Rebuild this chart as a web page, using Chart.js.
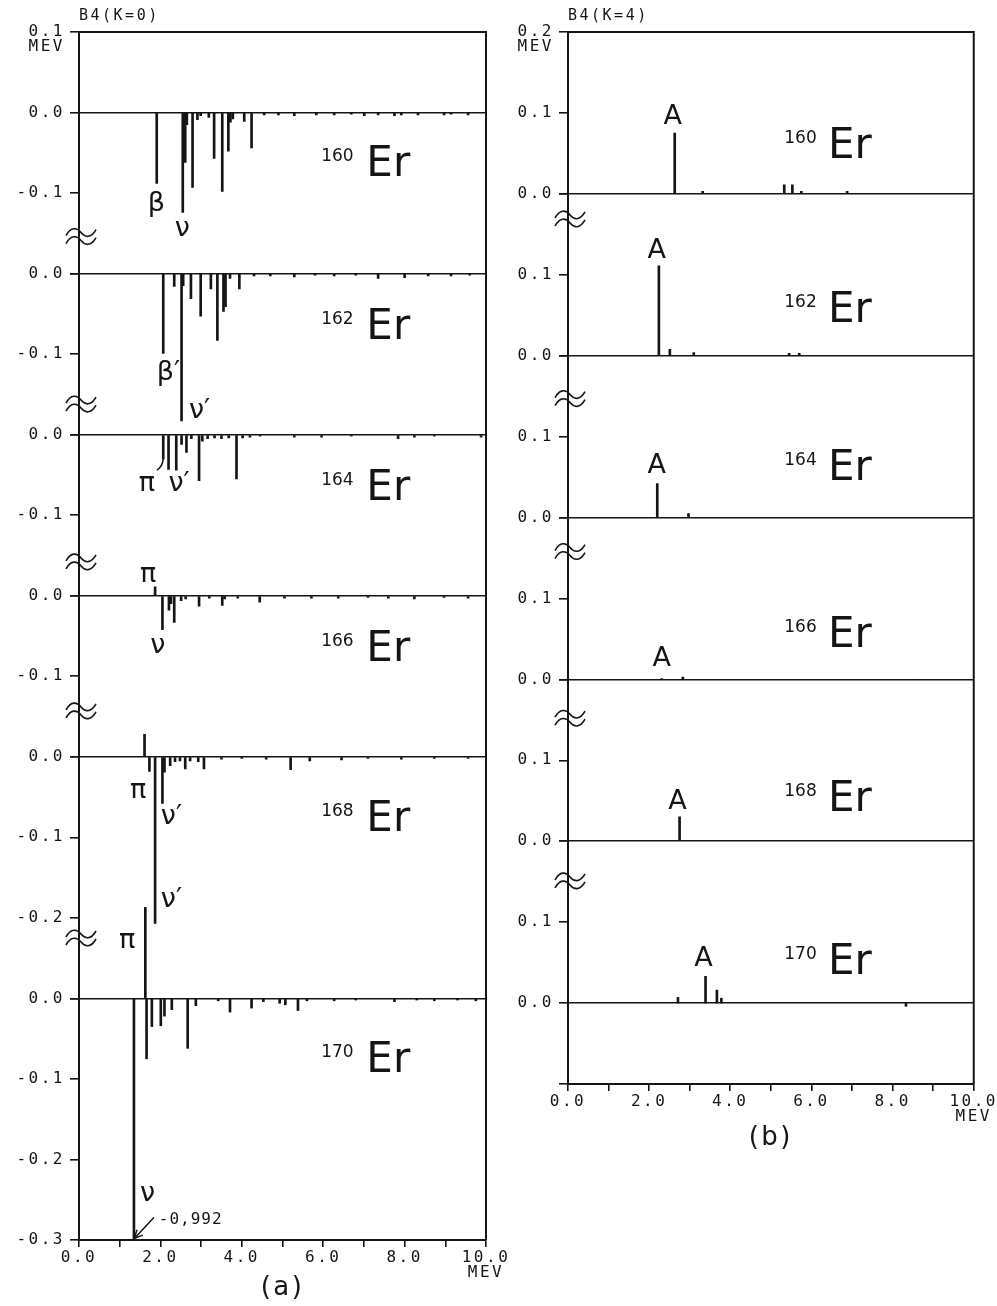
<!DOCTYPE html>
<html>
<head>
<meta charset="utf-8">
<script src="https://cdn.jsdelivr.net/npm/chart.js@4.4.1/dist/chart.umd.min.js"></script>
<style>
  html, body { margin: 0; padding: 0; background: #fff; }
  #wrap { position: relative; width: 997px; height: 1306px; overflow: hidden; }
  #chartA { position: absolute; left: 0; top: 0; }
  #chartB { position: absolute; left: 512px; top: 0; }
</style>
</head>
<body>
<div id="wrap">
  <canvas id="chartA" width="512" height="1306"></canvas>
  <canvas id="chartB" width="485" height="1306"></canvas>
</div>
<script>
const INK = '#151515';
const MONO = "'DejaVu Sans Mono', monospace";
const SANS = "'DejaVu Sans', sans-serif";

const isotopes = ['160', '162', '164', '166', '168', '170'];

// B4 strength for K=0 states: [excitation energy (MeV), B4 (MeV)]
const er160K0 = [[1.91, -0.088], [2.55, -0.124], [2.61, -0.062], [2.65, -0.015], [2.79, -0.093],
  [2.91, -0.009], [2.99, -0.004], [3.19, -0.006], [3.32, -0.057], [3.52, -0.098], [3.67, -0.048],
  [3.72, -0.012], [3.78, -0.008], [4.06, -0.011], [4.24, -0.044], [4.55, -0.003], [4.90, -0.003],
  [5.29, -0.004], [5.83, -0.003], [6.27, -0.003], [6.69, -0.002], [7.01, -0.004], [7.35, -0.003],
  [7.75, -0.004], [7.92, -0.003], [8.33, -0.003], [8.97, -0.003], [9.14, -0.002], [9.56, -0.003]];
const er162K0 = [[2.07, -0.099], [2.34, -0.016], [2.52, -0.183], [2.56, -0.015], [2.75, -0.031],
  [2.99, -0.053], [3.24, -0.019], [3.40, -0.083], [3.55, -0.047], [3.60, -0.041], [3.71, -0.006],
  [3.94, -0.019], [4.30, -0.003], [4.70, -0.003], [5.29, -0.004], [5.80, -0.002], [6.27, -0.003],
  [6.80, -0.002], [7.35, -0.006], [8.00, -0.005], [8.58, -0.003], [9.14, -0.003], [9.60, -0.002]];
const er164K0 = [[2.07, -0.030], [2.20, -0.043], [2.39, -0.044], [2.52, -0.012], [2.64, -0.022],
  [2.76, -0.005], [2.95, -0.057], [3.03, -0.008], [3.16, -0.005], [3.33, -0.004], [3.50, -0.005],
  [3.68, -0.004], [3.87, -0.055], [4.02, -0.004], [4.20, -0.003], [4.45, -0.002], [5.29, -0.003],
  [5.96, -0.003], [6.69, -0.002], [7.84, -0.005], [8.24, -0.003], [8.73, -0.002], [9.88, -0.003]];
const er166K0 = [[1.87, 0.011], [2.05, -0.042], [2.21, -0.018], [2.26, -0.010], [2.34, -0.033],
  [2.51, -0.006], [2.62, -0.004], [2.95, -0.013], [3.20, -0.003], [3.52, -0.012], [3.58, -0.004],
  [3.90, -0.003], [4.44, -0.008], [5.05, -0.003], [5.71, -0.003], [6.37, -0.003], [7.10, -0.002],
  [7.60, -0.003], [8.24, -0.004], [8.97, -0.002], [9.56, -0.003]];
const er168K0 = [[1.61, 0.028], [1.73, -0.018], [1.87, -0.207], [2.05, -0.058], [2.10, -0.019],
  [2.24, -0.011], [2.36, -0.006], [2.48, -0.005], [2.61, -0.015], [2.73, -0.005], [2.93, -0.006],
  [3.07, -0.015], [3.50, -0.003], [4.00, -0.002], [4.60, -0.003], [5.20, -0.016], [5.67, -0.005],
  [6.45, -0.004], [7.10, -0.002], [7.92, -0.003], [8.73, -0.002], [9.56, -0.002]];
const er170K0 = [[1.35, -0.992], [1.63, 0.113], [1.66, -0.075], [1.79, -0.035], [2.01, -0.034],
  [2.10, -0.022], [2.28, -0.014], [2.67, -0.062], [2.87, -0.009], [3.42, -0.003], [3.71, -0.017],
  [4.24, -0.012], [4.53, -0.004], [4.93, -0.006], [5.07, -0.008], [5.38, -0.015], [5.60, -0.003],
  [6.27, -0.003], [6.80, -0.002], [7.75, -0.004], [8.30, -0.002], [8.73, -0.003], [9.30, -0.002],
  [9.75, -0.003]];

// B4 strength for K=4 states
const er160K4 = [[2.63, 0.075], [3.32, 0.003], [5.33, 0.011], [5.53, 0.011], [5.75, 0.003], [6.88, 0.003], [8.90, -0.003]];
const er162K4 = [[2.24, 0.111], [2.51, 0.008], [3.10, 0.004], [5.45, 0.003], [5.70, 0.003], [8.82, -0.003]];
const er164K4 = [[2.20, 0.042], [2.97, 0.005], [8.77, -0.004]];
const er166K4 = [[2.31, 0.001], [2.83, 0.003], [8.60, -0.004]];
const er168K4 = [[2.75, 0.030], [8.40, -0.003]];
const er170K4 = [[2.71, 0.007], [3.39, 0.033], [3.67, 0.016], [3.78, 0.006], [8.33, -0.004]];

// value range of each stacked sub-panel, top to bottom
const rangesK0 = [[-0.2, 0.1], [-0.2, 0], [-0.2, 0], [-0.2, 0], [-0.3, 0], [-0.3, 0]];
const rangesK4 = [[0, 0.2], [0, 0.2], [0, 0.2], [0, 0.2], [0, 0.2], [-0.1, 0.2]];

// labelled ticks on the left axis of each sub-panel
const tickLabelsK0 = [[0.1, 0, -0.1], [0, -0.1], [0, -0.1], [0, -0.1], [0, -0.1, -0.2], [0, -0.1, -0.2, -0.3]];
const tickLabelsK4 = [[0.2, 0.1, 0], [0.1, 0], [0.1, 0], [0.1, 0], [0.1, 0], [0.1, 0]];
const energyTicks = [0, 2, 4, 6, 8, 10];

const near = (a, b) => Math.abs(a - b) < 1e-6;
const fmt = v => (Math.round(v * 10) / 10 + 0).toFixed(1);

// plotter-like spacing for the axis text
const spacing = {
  id: 'spacing',
  beforeDraw(chart) { chart.ctx.letterSpacing = '2.5px'; }
};

// frame, axis breaks, nucleus names and state labels
const decor = {
  id: 'decor',
  afterDraw(chart, args, o) {
    const ctx = chart.ctx, area = chart.chartArea, xs = chart.scales.x;
    const px = v => xs.getPixelForValue(v);
    const py = (iso, v) => chart.scales['y' + iso].getPixelForValue(v);
    ctx.save();
    ctx.strokeStyle = INK;
    ctx.fillStyle = INK;
    ctx.lineWidth = 2;
    ctx.beginPath();
    ctx.moveTo(area.left, area.top);
    ctx.lineTo(area.right, area.top);
    ctx.lineTo(area.right, area.bottom);
    ctx.stroke();

    ctx.lineWidth = 1.6;
    o.breaks.forEach(b => {
      const y = py(b.iso, b.v), cx = area.left + 2;
      [-4, 4].forEach(d => {
        const yy = y + d;
        ctx.beginPath();
        ctx.moveTo(cx - 15, yy + 3);
        ctx.bezierCurveTo(cx - 10, yy - 6, cx - 4, yy - 5, cx, yy);
        ctx.bezierCurveTo(cx + 4, yy + 5, cx + 10, yy + 6, cx + 15, yy - 3);
        ctx.stroke();
      });
    });

    ctx.letterSpacing = '0px';
    ctx.textBaseline = 'alphabetic';
    ctx.textAlign = 'left';
    isotopes.forEach((iso, i) => {
      const y = py(iso, o.names.base[i]);
      ctx.font = '17px ' + SANS;
      ctx.fillText(iso, px(o.names.supX), y - 15);
      ctx.font = '42px ' + SANS;
      ctx.fillText('Er', px(o.names.erX), y);
    });

    ctx.textBaseline = 'middle';
    ctx.font = '27px ' + SANS;
    o.notes.forEach(n => {
      ctx.textAlign = n.align || 'left';
      ctx.fillText(n.t, px(n.x), py(n.iso, n.y));
    });

    ctx.lineWidth = 1.5;
    (o.curves || []).forEach(c => {
      const p = c.pts.map(q => [px(q[0]), py(c.iso, q[1])]);
      ctx.beginPath();
      ctx.moveTo(p[0][0], p[0][1]);
      ctx.quadraticCurveTo(p[1][0], p[1][1], p[2][0], p[2][1]);
      ctx.stroke();
    });
    (o.arrows || []).forEach(a => {
      const x0 = px(a.from[0]), y0 = py(a.iso, a.from[1]);
      const x1 = px(a.to[0]), y1 = py(a.iso, a.to[1]);
      const ang = Math.atan2(y1 - y0, x1 - x0);
      ctx.beginPath();
      ctx.moveTo(x0, y0);
      ctx.lineTo(x1, y1);
      ctx.moveTo(x1 - 9 * Math.cos(ang - 0.45), y1 - 9 * Math.sin(ang - 0.45));
      ctx.lineTo(x1, y1);
      ctx.lineTo(x1 - 9 * Math.cos(ang + 0.45), y1 - 9 * Math.sin(ang + 0.45));
      ctx.stroke();
      ctx.font = '16px ' + MONO;
      ctx.letterSpacing = '1px';
      ctx.textAlign = 'left';
      ctx.fillText(a.text, px(a.textAt[0]), py(a.iso, a.textAt[1]));
      ctx.letterSpacing = '0px';
    });
    ctx.restore();
  }
};

function buildChart(id, sets, ranges, tickLabels, o) {
  const tickFont = { family: MONO, size: 16, lineHeight: 0.9 };
  const scales = {
    x: {
      type: 'linear', min: 0, max: 10, offset: false,
      grid: { offset: false, drawOnChartArea: false, tickLength: 7, tickColor: INK, lineWidth: 1.6 },
      border: { color: INK, width: 2 },
      ticks: {
        stepSize: 1, autoSkip: false, maxRotation: 0, color: INK, padding: 4, font: tickFont,
        callback: v => energyTicks.includes(v) ? (v === 10 ? [fmt(v), 'MEV'] : fmt(v)) : ''
      },
      title: { display: true, text: o.tag, color: INK, font: { family: SANS, size: 26 }, padding: { top: 0, bottom: 2 } },
      afterFit: s => { s.height = o.xAxisHeight; }
    }
  };
  ranges.forEach((r, i) => {
    const shown = tickLabels[i];
    scales['y' + isotopes[i]] = {
      type: 'linear', position: 'left', stack: 'er', stackWeight: r[1] - r[0], weight: ranges.length - i,
      min: r[0], max: r[1],
      grid: {
        color: c => (c.tick && near(c.tick.value, 0)) ? INK : 'rgba(0,0,0,0)',
        lineWidth: 1.6, tickLength: 9, tickColor: INK
      },
      border: { color: INK, width: 2 },
      ticks: {
        stepSize: 0.1, autoSkip: false, color: INK, padding: 5, font: tickFont,
        callback: v => {
          if (!shown.some(t => near(t, v))) return '';
          return (i === 0 && near(v, r[1])) ? ['', fmt(v), 'MEV'] : fmt(v);
        }
      },
      afterFit: s => { s.width = o.yAxisWidth; }
    };
  });

  return new Chart(document.getElementById(id), {
    type: 'bar',
    data: {
      datasets: sets.map((s, i) => ({
        label: isotopes[i] + 'Er',
        data: s.map(([e, b]) => ({ x: e, y: b })),
        xAxisID: 'x',
        yAxisID: 'y' + isotopes[i],
        backgroundColor: INK,
        borderWidth: 0,
        barThickness: 2,
        grouped: false,
        clip: { left: false, right: false, top: false, bottom: 0 }
      }))
    },
    options: {
      responsive: false,
      animation: false,
      devicePixelRatio: 1,
      events: [],
      layout: { autoPadding: false, padding: o.padding },
      scales: scales,
      plugins: {
        legend: { display: false },
        tooltip: { enabled: false },
        title: {
          display: true, text: o.title, align: 'start', fullSize: false, color: INK,
          font: { family: MONO, size: 15, weight: 'normal', lineHeight: 1.2 },
          padding: { top: 7, bottom: 7 }
        },
        decor: o.decor
      }
    },
    plugins: [spacing, decor]
  });
}

buildChart('chartA', [er160K0, er162K0, er164K0, er166K0, er168K0, er170K0], rangesK0, tickLabelsK0, {
  title: 'B4(K=0)', tag: '(a)', yAxisWidth: 79, xAxisHeight: 66,
  padding: { left: 0, right: 26, top: 0, bottom: 0 },
  decor: {
    breaks: [{ iso: '160', v: -0.154 }, { iso: '162', v: -0.162 }, { iso: '164', v: -0.158 },
             { iso: '166', v: -0.143 }, { iso: '168', v: -0.225 }],
    names: { supX: 5.95, erX: 7.06, base: [-0.079, -0.081, -0.081, -0.081, -0.092, -0.092] },
    notes: [
      { iso: '160', x: 1.69, y: -0.114, t: 'β' },
      { iso: '160', x: 2.35, y: -0.145, t: 'ν' },
      { iso: '162', x: 1.91, y: -0.123, t: 'β′' },
      { iso: '162', x: 2.70, y: -0.170, t: 'ν′' },
      { iso: '164', x: 1.47, y: -0.061, t: 'π' },
      { iso: '164', x: 2.20, y: -0.061, t: 'ν′' },
      { iso: '166', x: 1.50, y: 0.026, t: 'π' },
      { iso: '166', x: 1.75, y: -0.062, t: 'ν' },
      { iso: '168', x: 1.25, y: -0.042, t: 'π' },
      { iso: '168', x: 2.01, y: -0.075, t: 'ν′' },
      { iso: '168', x: 2.01, y: -0.178, t: 'ν′' },
      { iso: '170', x: 0.98, y: 0.071, t: 'π' },
      { iso: '170', x: 1.50, y: -0.243, t: 'ν' }
    ],
    curves: [{ iso: '164', pts: [[2.07, -0.030], [2.05, -0.040], [1.91, -0.044]] }],
    arrows: [{ iso: '170', from: [1.84, -0.272], to: [1.36, -0.298], text: '-0,992', textAt: [1.96, -0.275] }]
  }
});

buildChart('chartB', [er160K4, er162K4, er164K4, er166K4, er168K4, er170K4], rangesK4, tickLabelsK4, {
  title: 'B4(K=4)', tag: '(b)', yAxisWidth: 56, xAxisHeight: 72,
  padding: { left: 0, right: 22, top: 0, bottom: 150 },
  decor: {
    breaks: [{ iso: '162', v: 0.169 }, { iso: '164', v: 0.147 }, { iso: '166', v: 0.158 },
             { iso: '168', v: 0.152 }, { iso: '170', v: 0.151 }],
    names: { supX: 5.33, erX: 6.41, base: [0.044, 0.042, 0.046, 0.040, 0.037, 0.036] },
    notes: [
      { iso: '160', x: 2.58, y: 0.095, t: 'A', align: 'center' },
      { iso: '162', x: 2.19, y: 0.130, t: 'A', align: 'center' },
      { iso: '164', x: 2.19, y: 0.064, t: 'A', align: 'center' },
      { iso: '166', x: 2.31, y: 0.025, t: 'A', align: 'center' },
      { iso: '168', x: 2.70, y: 0.049, t: 'A', align: 'center' },
      { iso: '170', x: 3.34, y: 0.054, t: 'A', align: 'center' }
    ]
  }
});
</script>
</body>
</html>
